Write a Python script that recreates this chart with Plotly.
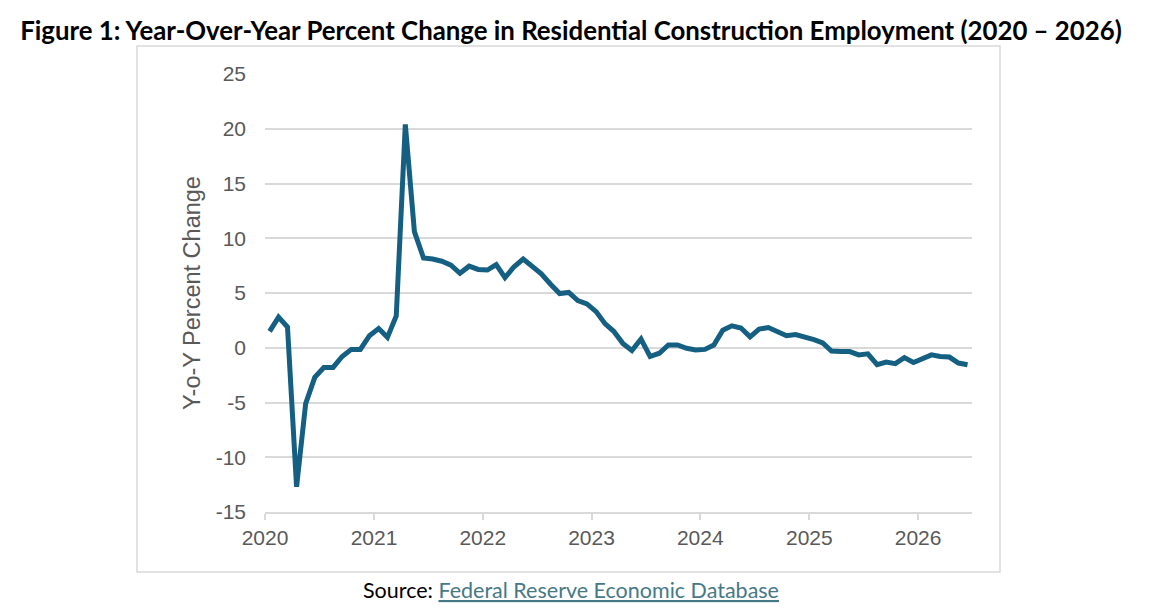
import pandas as pd
import plotly.graph_objects as go

# monthly observations, Jan 2020 .. Jun 2026
months = pd.date_range("2020-01-01", periods=78, freq="MS")

yoy_2020 = [1.5, 2.8, 1.9, -12.7, -5.1, -2.7, -1.8, -1.8, -0.8, -0.15, -0.15, 1.1]
yoy_2021 = [1.75, 0.95, 2.9, 20.4, 10.6, 8.2, 8.1, 7.9, 7.55, 6.8, 7.45, 7.15]
yoy_2022 = [7.1, 7.6, 6.4, 7.4, 8.1, 7.4, 6.75, 5.8, 4.95, 5.05, 4.3, 4.0]
yoy_2023 = [3.3, 2.2, 1.5, 0.4, -0.25, 0.8, -0.8, -0.5, 0.25, 0.25, -0.05, -0.2]
yoy_2024 = [-0.15, 0.25, 1.6, 2.0, 1.8, 1.0, 1.7, 1.85, 1.5, 1.1, 1.2, 1.0]
yoy_2025 = [0.75, 0.45, -0.3, -0.35, -0.35, -0.65, -0.55, -1.55, -1.3, -1.45, -0.9, -1.35]
yoy_2026 = [-1.05, -0.65, -0.8, -0.85, -1.4, -1.55]

yoy = yoy_2020 + yoy_2021 + yoy_2022 + yoy_2023 + yoy_2024 + yoy_2025 + yoy_2026

year_ticks = ["2020-01-01", "2021-01-01", "2022-01-01", "2023-01-01",
              "2024-01-01", "2025-01-01", "2026-01-01"]
year_labels = ["2020", "2021", "2022", "2023", "2024", "2025", "2026"]

y_ticks = [-15, -10, -5, 0, 5, 10, 15, 20, 25]
y_labels = ["-15", "-10", "-5", "0", "5", "10", "15", "20", "25"]

# page has an 8px body margin, so the figure starts at (8, 8)
OFF = 8
W, H = 1149 - OFF, 615 - OFF
# plot area in page pixels
L, R, T, B = 265, 972, 74, 512

grey = "#d9d9d9"
text_grey = "#595959"


def px_x(x):
    return (x - L) / (R - L)


def px_y(y):
    return (B - y) / (B - T)


fig = go.Figure()

fig.add_trace(
    go.Scatter(
        x=months,
        y=yoy,
        mode="lines",
        xperiod="M1",
        xperiodalignment="middle",
        line=dict(color="#156082", width=5),
        hoverinfo="x+y",
    )
)

fig.update_layout(
    width=W,
    height=H,
    margin=dict(l=L - OFF, r=W - (R - OFF), t=T - OFF, b=H - (B - OFF)),
    plot_bgcolor="white",
    paper_bgcolor="white",
    showlegend=False,
    title=dict(
        text="<b>Figure 1: Year-Over-Year Percent Change in Residential Construction Employment (2020 \u2013 2026)</b>",
        font=dict(family="Lato", size=25.8, color="black"),
        x=(571 - OFF) / W,
        xanchor="center",
        y=1 - (31 - OFF) / H,
        yanchor="middle",
    ),
    xaxis=dict(
        type="date",
        range=["2020-01-01", "2026-07-01"],
        tickvals=year_ticks,
        ticktext=year_labels,
        showgrid=False,
        showline=True,
        linecolor=grey,
        linewidth=1.5,
        ticks="outside",
        ticklen=6,
        tickcolor=grey,
        tickwidth=1.5,
        tickfont=dict(family="Liberation Sans", size=21, color=text_grey),
        zeroline=False,
    ),
    yaxis=dict(
        range=[-15, 25],
        tickvals=y_ticks,
        ticktext=y_labels,
        showgrid=True,
        gridcolor=grey,
        gridwidth=1.5,
        zeroline=False,
        showline=False,
        ticks="",
        ticklabelstandoff=18,
        tickfont=dict(family="Liberation Sans", size=21, color=text_grey),
        title=dict(
            text="Y-o-Y Percent Change",
            font=dict(family="Liberation Sans", size=23.5, color=text_grey),
            standoff=8,
        ),
    ),
)

# frame around the chart
fig.add_shape(
    type="rect",
    xref="paper",
    yref="paper",
    x0=px_x(137),
    x1=px_x(1000),
    y0=px_y(572),
    y1=px_y(46),
    line=dict(color=grey, width=1.5),
    layer="below",
)

fig.add_annotation(
    xref="paper",
    yref="paper",
    x=px_x(571),
    y=px_y(590),
    xanchor="center",
    yanchor="middle",
    showarrow=False,
    text="Source: <span style='color:#467886'><u>Federal Reserve Economic Database</u></span>",
    font=dict(family="Lato", size=21.5, color="black"),
)

fig.write_html("out.html")
